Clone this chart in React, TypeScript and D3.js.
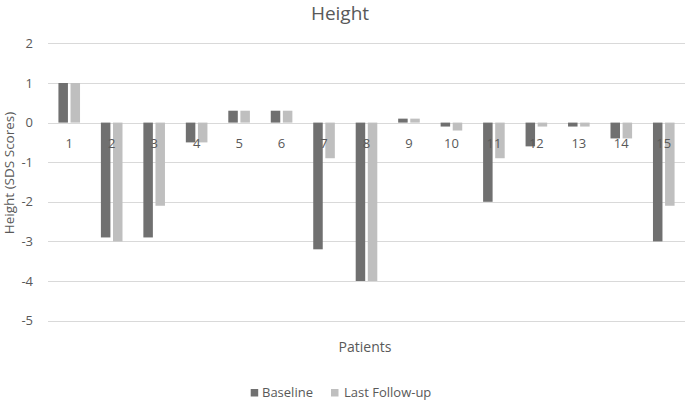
import React, { useEffect, useRef } from "react";
import * as d3 from "d3";

const categories = ["1", "2", "3", "4", "5", "6", "7", "8", "9", "10", "11", "12", "13", "14", "15"];
const seriesNames = ["Baseline", "Last Follow-up"];
const baseline = [1, -2.9, -2.9, -0.5, 0.3, 0.3, -3.2, -4, 0.1, -0.1, -2.0, -0.6, -0.1, -0.4, -3.0];
const followUp = [1, -3.0, -2.1, -0.5, 0.3, 0.3, -0.9, -4, 0.1, -0.2, -0.9, -0.1, -0.1, -0.4, -2.1];
const yTicks = [2, 1, 0, -1, -2, -3, -4, -5];
const colors = ["#707070", "#bfbfbf"];

const W = 685;
const H = 400;
const FONT = "'Open Sans', sans-serif";
const TEXT = "#595959";

export default function App() {
  const ref = useRef<SVGSVGElement>(null);

  useEffect(() => {
    const svg = d3.select(ref.current);
    svg.selectAll("*").remove();

    const x = d3.scaleBand<string>().domain(categories).range([48, 685]).padding(0);
    const y = d3.scaleLinear().domain([-5, 2]).range([320.6, 43.4]);
    const bw = x.bandwidth();
    const gw = 21.6;
    const xs = d3
      .scaleBand<string>()
      .domain(seriesNames)
      .range([(bw - gw) / 2, (bw + gw) / 2])
      .paddingInner(0.215)
      .paddingOuter(0);

    // gridlines
    svg
      .append("g")
      .selectAll("line")
      .data(yTicks)
      .join("line")
      .attr("x1", 48)
      .attr("x2", 685)
      .attr("y1", (d) => Math.round(y(d)) + 0.5)
      .attr("y2", (d) => Math.round(y(d)) + 0.5)
      .attr("stroke", "#d9d9d9")
      .attr("stroke-width", 1.2);

    // y tick labels
    svg
      .append("g")
      .selectAll("text")
      .data(yTicks)
      .join("text")
      .attr("x", 33)
      .attr("y", (d) => y(d))
      .attr("dy", "0.35em")
      .attr("text-anchor", "end")
      .attr("font-family", FONT)
      .attr("font-size", 13)
      .attr("fill", TEXT)
      .text((d) => String(d));

    const data = [baseline, followUp];
    const g = svg.append("g");
    data.forEach((vals, si) => {
      g.append("g")
        .selectAll("rect")
        .data(vals)
        .join("rect")
        .attr("x", (_, i) => (x(categories[i]) as number) + (xs(seriesNames[si]) as number))
        .attr("width", xs.bandwidth())
        .attr("y", (d) => y(Math.max(0, d)))
        .attr("height", (d) => Math.abs(y(d) - y(0)))
        .attr("fill", colors[si]);
    });

    // category labels
    svg
      .append("g")
      .selectAll("text")
      .data(categories)
      .join("text")
      .attr("x", (d) => (x(d) as number) + bw / 2)
      .attr("y", 143.3)
      .attr("dy", "0.35em")
      .attr("text-anchor", "middle")
      .attr("font-family", FONT)
      .attr("font-size", 13)
      .attr("fill", TEXT)
      .text((d) => d);

    // title
    svg
      .append("text")
      .attr("x", 340)
      .attr("y", 19.5)
      .attr("text-anchor", "middle")
      .attr("font-family", FONT)
      .attr("font-size", 19)
      .attr("fill", TEXT)
      .text("Height");

    // axis titles
    svg
      .append("text")
      .attr("x", 365)
      .attr("y", 347)
      .attr("dy", "0.35em")
      .attr("text-anchor", "middle")
      .attr("font-family", FONT)
      .attr("font-size", 14)
      .attr("fill", TEXT)
      .text("Patients");

    svg
      .append("text")
      .attr("transform", "translate(9,173) rotate(-90)")
      .attr("dy", "0.35em")
      .attr("text-anchor", "middle")
      .attr("font-family", FONT)
      .attr("font-size", 13.5)
      .attr("fill", TEXT)
      .text("Height (SDS Scores)");

    // legend
    const legend = svg.append("g");
    const items = [
      { name: seriesNames[0], sx: 250.7, tx: 262 },
      { name: seriesNames[1], sx: 331, tx: 344 },
    ];
    items.forEach((it, i) => {
      legend
        .append("rect")
        .attr("x", it.sx)
        .attr("y", 389)
        .attr("width", 7.5)
        .attr("height", 7.5)
        .attr("fill", colors[i]);
      legend
        .append("text")
        .attr("x", it.tx)
        .attr("y", 392.7)
        .attr("dy", "0.35em")
        .attr("font-family", FONT)
        .attr("font-size", 13)
        .attr("fill", TEXT)
        .text(it.name);
    });
  }, []);

  return (
    <svg
      ref={ref}
      width={W}
      height={H}
      style={{ position: "absolute", left: 0, top: 0, background: "#fff" }}
    />
  );
}
